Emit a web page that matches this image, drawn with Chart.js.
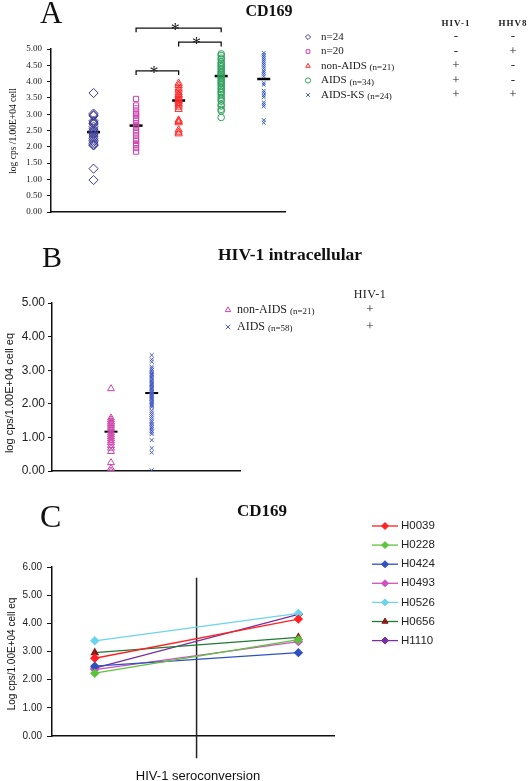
<!DOCTYPE html>
<html>
<head>
<meta charset="utf-8">
<script src="https://cdn.jsdelivr.net/npm/chart.js@4.4.1/dist/chart.umd.min.js"></script>
<style>
body{margin:0;background:#fff;}
#page{position:relative;width:530px;height:781px;overflow:hidden;background:#fff;}
canvas{position:absolute;left:0;}
.t{position:absolute;white-space:nowrap;color:#111;line-height:1;}
.serif{font-family:"Liberation Serif","DejaVu Serif",serif;}
.sans{font-family:"Liberation Sans",Arial,sans-serif;}
.c{transform:translateX(-50%);}
.rot{transform:translate(-50%,-50%) rotate(-90deg);}
</style>
</head>
<body>
<div id="page">
<canvas id="chartA" width="530" height="250" style="top:0"></canvas>
<canvas id="chartB" width="530" height="240" style="top:250px"></canvas>
<canvas id="chartC" width="530" height="291" style="top:490px"></canvas>

<div class="t serif" style="left:40px;top:-3px;font-size:31px">A</div>
<div class="t serif c" style="left:269px;top:3px;font-size:16px;font-weight:bold">CD169</div>
<div class="t serif rot" style="left:14px;top:131px;font-size:9.5px">log cps /1.00E+04 cell</div>

<div class="t serif" style="left:42px;top:242px;font-size:30px">B</div>
<div class="t serif c" style="left:290px;top:246px;font-size:17.5px;font-weight:bold">HIV-1 intracellular</div>
<div class="t sans rot" style="left:9px;top:393px;font-size:11px">log cps/1.00E+04 cell eq</div>

<div class="t serif" style="left:40px;top:500px;font-size:32px">C</div>
<div class="t serif c" style="left:262px;top:502px;font-size:17px;font-weight:bold">CD169</div>
<div class="t sans rot" style="left:12px;top:654px;font-size:10px">Log cps/1.00E+04 cell eq</div>
<div class="t sans c" style="left:198px;top:769px;font-size:13px">HIV-1 seroconversion</div>
</div>

<script>
// ---- panel A: CD169, log cps per 1.00E+04 cells, by group
const groupsA = ['n=24', 'n=20', 'non-AIDS', 'AIDS', 'AIDS-KS'];
const groupNA = ['', '', '(n=21)', '(n=34)', '(n=24)'];
const hivA = ['-', '-', '+', '+', '+'];
const hhv8A = ['-', '+', '-', '-', '+'];

const negA = [3.65, 3.02, 2.98, 2.95, 2.80, 2.76, 2.72, 2.70, 2.62, 2.55, 2.50, 2.47,
  2.44, 2.40, 2.36, 2.30, 2.25, 2.20, 2.15, 2.10, 2.06, 2.04, 1.33, 0.98];
const hhv8OnlyA = [3.47, 3.27, 3.18, 3.08, 3.00, 2.96, 2.88, 2.80, 2.72, 2.66,
  2.58, 2.50, 2.44, 2.35, 2.25, 2.18, 2.10, 2.05, 1.96, 1.85];
const nonAidsA = [3.95, 3.88, 3.80, 3.74, 3.66, 3.60, 3.58, 3.52, 3.47, 3.42, 3.38,
  3.33, 3.28, 3.22, 3.15, 2.82, 2.78, 2.74, 2.52, 2.45, 2.40];
const aidsA = [4.85, 4.80, 4.72, 4.68, 4.60, 4.55, 4.50, 4.46, 4.40, 4.35, 4.30, 4.26,
  4.22, 4.18, 4.14, 4.10, 4.05, 4.00, 3.96, 3.92, 3.86, 3.80, 3.76, 3.70, 3.66, 3.60,
  3.52, 3.46, 3.40, 3.30, 3.25, 3.15, 3.10, 2.90];
const aidsKsA = [4.88, 4.82, 4.76, 4.70, 4.64, 4.58, 4.52, 4.46, 4.40, 4.33, 4.28, 4.22,
  4.16, 3.96, 3.90, 3.72, 3.66, 3.58, 3.52, 3.36, 3.30, 3.24, 2.82, 2.74];
const meansA = [2.45, 2.65, 3.42, 4.17, 4.08];
// [from group, to group, height]
const bracketsA = [[2, 4, 5.64], [3, 4, 5.21], [2, 3, 4.33]];

// ---- panel B: HIV-1 intracellular
const groupsB = ['non-AIDS', 'AIDS'];
const groupNB = ['(n=21)', '(n=58)'];
const nonAidsB = [2.45, 1.58, 1.52, 1.46, 1.41, 1.36, 1.30, 1.25, 1.20, 1.14, 1.08,
  1.02, 0.96, 0.90, 0.84, 0.76, 0.68, 0.58, 0.25, 0.08, 0.00];
const aidsB = [3.45, 3.32, 3.25, 3.10, 3.05, 3.00, 2.95, 2.90, 2.86, 2.82,
  2.78, 2.74, 2.70, 2.66, 2.62, 2.58, 2.54, 2.50, 2.46, 2.42,
  2.38, 2.35, 2.32, 2.28, 2.25, 2.22, 2.18, 2.15, 2.12, 2.08,
  2.05, 2.02, 1.98, 1.94, 1.90, 1.80, 1.74, 1.68, 1.62, 1.56,
  1.50, 1.45, 1.40, 1.35, 1.30, 1.25, 1.20, 1.15, 1.10, 1.96,
  2.60, 2.88, 2.48, 0.92, 0.68, 0.55, 0.02, 2.20];
const meansB = [1.17, 2.32];

// ---- panel C: CD169 before / after seroconversion
const patients = ['H0039', 'H0228', 'H0424', 'H0493', 'H0526', 'H0656', 'H1110'];
const beforeC = [2.76, 2.23, 2.48, 2.36, 3.38, 2.96, 2.41];
const afterC = [4.15, 3.42, 2.96, 3.35, 4.35, 3.50, 4.32];
const lineColors = ['#ff2020', '#5cc43c', '#3050c0', '#d050c0', '#6cd4ea', '#1f7a35', '#7a2fa0'];
const markColors = ['#ff2020', '#5cc43c', '#3050c0', '#d050c0', '#6cd4ea', '#8b1a1a', '#7a2fa0'];

const col = (vals, x) => vals.map(v => ({x: x, y: v}));
const serif = '"Liberation Serif", "DejaVu Serif", serif';
const sans = '"Liberation Sans", Arial, sans-serif';

function makeKey(cfg) {
  return {
    id: 'key' + cfg.name,
    afterDraw(chart) {
      const ctx = chart.ctx;
      ctx.save();
      ctx.textBaseline = 'middle';
      cfg.rows.forEach((r, i) => {
        const ds = chart.data.datasets[i];
        const y = cfg.y + i * cfg.dy;
        if (cfg.line) {
          ctx.strokeStyle = ds.borderColor;
          ctx.lineWidth = 1.3;
          ctx.beginPath();
          ctx.moveTo(cfg.mx - cfg.line, y);
          ctx.lineTo(cfg.mx + cfg.line, y);
          ctx.stroke();
        }
        ctx.strokeStyle = ds.pointBorderColor || ds.borderColor;
        ctx.fillStyle = ds.pointBackgroundColor || ds.backgroundColor;
        ctx.lineWidth = 1;
        Chart.helpers.drawPoint(ctx, {pointStyle: ds.pointStyle, radius: cfg.r, borderWidth: 1, rotation: 0}, cfg.mx, y);
        ctx.fillStyle = '#222';
        ctx.textAlign = 'left';
        ctx.font = cfg.font;
        ctx.fillText(r.label, cfg.tx, y);
        if (r.sub) {
          const w = ctx.measureText(r.label + ' ').width;
          ctx.font = cfg.subFont;
          ctx.fillText(r.sub, cfg.tx + w, y + 2);
        }
        ctx.textAlign = 'center';
        ctx.font = cfg.signFont || cfg.font;
        (r.signs || []).forEach((s, j) => ctx.fillText(s, cfg.cols[j], y));
      });
      ctx.font = cfg.headFont || cfg.font;
      ctx.textAlign = 'center';
      if ('letterSpacing' in ctx) ctx.letterSpacing = cfg.headSpacing || '0px';
      (cfg.heads || []).forEach((h, j) => ctx.fillText(h, cfg.cols[j], cfg.headY));
      ctx.restore();
    }
  };
}

const starsA = {
  id: 'starsA',
  afterDatasetsDraw(chart) {
    const ctx = chart.ctx, xs = chart.scales.x, ys = chart.scales.y;
    ctx.save();
    ctx.fillStyle = '#222';
    ctx.font = '18px ' + serif;
    ctx.textAlign = 'center';
    ctx.textBaseline = 'alphabetic';
    bracketsA.forEach(b => {
      ctx.fillText('*', xs.getPixelForValue((b[0] + b[1]) / 2 - 0.08), ys.getPixelForValue(b[2]) + 8);
    });
    ctx.restore();
  }
};

function yAxis(max, step, width, font, tickLen, pad) {
  return {
    min: 0, max: max,
    afterFit: s => { s.width = width; },
    ticks: {stepSize: step, callback: v => v.toFixed(2), font: font, color: '#222', padding: pad},
    grid: {display: true, drawOnChartArea: false, drawTicks: true, tickLength: tickLen, color: '#111', lineWidth: 1},
    border: {display: true, color: '#111', width: 1.5}
  };
}
function xAxis(min, max) {
  return {
    type: 'linear', min: min, max: max,
    afterFit: s => { s.height = 0; },
    ticks: {display: false},
    grid: {display: false},
    border: {display: true, color: '#111', width: 1.5}
  };
}

const base = {responsive: false, animation: false, events: [], plugins: {legend: {display: false}, tooltip: {enabled: false}}};

// ---------- A
const colorsA = ['#3c3c96', '#d040b0', '#ff2a2a', '#2ea05a', '#3a5cc0'];
const stylesA = ['rectRot', 'rect', 'triangle', 'circle', 'crossRot'];
const radiiA = [4.6, 3.6, 4.2, 3.3, 2.6];
const seriesA = [negA, hhv8OnlyA, nonAidsA, aidsA, aidsKsA];
const dsA = seriesA.map((vals, i) => ({
  data: col(vals, i + 1), pointStyle: stylesA[i], pointRadius: radiiA[i],
  borderColor: colorsA[i], backgroundColor: 'rgba(0,0,0,0)', borderWidth: 1
}));
dsA.push({data: meansA.map((v, i) => ({x: i + 1, y: v})), pointStyle: 'line', pointRadius: 6.5,
  borderColor: '#000', borderWidth: 2.5});
bracketsA.forEach(b => dsA.push({
  data: [{x: b[0], y: b[2] - 0.13}, {x: b[0], y: b[2]}, {x: b[1], y: b[2]}, {x: b[1], y: b[2] - 0.13}],
  showLine: true, pointRadius: 0, borderColor: '#111', borderWidth: 1.3, clip: false
}));

new Chart(document.getElementById('chartA'), {
  type: 'scatter',
  data: {datasets: dsA},
  options: Object.assign({}, base, {
    layout: {padding: {left: 0, top: 49, right: 245, bottom: 38}},
    scales: {x: xAxis(0, 5.5), y: yAxis(5, 0.5, 51, {family: serif, size: 9}, 4, 5)}
  }),
  plugins: [starsA, makeKey({
    name: 'A', mx: 308, tx: 321, y: 37, dy: 14.5, r: 2.6,
    font: '11px ' + serif, subFont: '9px ' + serif, signFont: '13px ' + serif,
    cols: [456, 513], heads: ['HIV-1', 'HHV8'], headY: 24, headFont: 'bold 9px ' + serif, headSpacing: '1px',
    rows: groupsA.map((g, i) => ({label: g, sub: groupNA[i], signs: [hivA[i], hhv8A[i]]}))
  })]
});

// ---------- B
const colorsB = ['#cc44aa', '#4a5cc8'];
const dsB = [
  {data: col(nonAidsB, 1), pointStyle: 'triangle', pointRadius: 4, borderColor: colorsB[0], backgroundColor: 'rgba(0,0,0,0)', borderWidth: 1},
  {data: col(aidsB, 2), pointStyle: 'crossRot', pointRadius: 2.8, borderColor: colorsB[1], backgroundColor: 'rgba(0,0,0,0)', borderWidth: 1},
  {data: meansB.map((v, i) => ({x: i + 1, y: v})), pointStyle: 'line', pointRadius: 6.5, borderColor: '#000', borderWidth: 2}
];
new Chart(document.getElementById('chartB'), {
  type: 'scatter',
  data: {datasets: dsB},
  options: Object.assign({}, base, {
    layout: {padding: {left: 0, top: 53, right: 290, bottom: 19}},
    scales: {x: xAxis(-0.45, 4.17), y: yAxis(5, 1, 52, {family: sans, size: 12}, 4, 3)}
  }),
  plugins: [makeKey({
    name: 'B', mx: 228, tx: 237, y: 60, dy: 17, r: 3.2,
    font: '12px ' + serif, subFont: '9px ' + serif, signFont: '13px ' + serif,
    cols: [370], heads: ['HIV-1'], headY: 45, headFont: '12px ' + serif, headSpacing: '0.5px',
    rows: groupsB.map((g, i) => ({label: g, sub: groupNB[i], signs: ['+']}))
  })]
});

// ---------- C
const dsC = patients.map((p, i) => ({
  label: p,
  data: [{x: 1, y: beforeC[i]}, {x: 3, y: afterC[i]}],
  showLine: true, borderColor: lineColors[i], borderWidth: 1.3,
  pointStyle: i === 5 ? 'triangle' : 'rectRot', pointRadius: 3.8,
  pointBackgroundColor: markColors[i], pointBorderColor: markColors[i],
  backgroundColor: markColors[i]
}));
const seroX = 2;
dsC.push({data: [{x: seroX, y: -0.79}, {x: seroX, y: 5.62}], showLine: true, pointRadius: 0,
  borderColor: '#222', borderWidth: 1.5, clip: false});

new Chart(document.getElementById('chartC'), {
  type: 'scatter',
  data: {datasets: dsC},
  options: Object.assign({}, base, {
    layout: {padding: {left: 0, top: 77, right: 196, bottom: 45}},
    scales: {x: xAxis(0.58, 3.35), y: yAxis(6, 1, 52, {family: sans, size: 10}, 5, 5)}
  }),
  plugins: [makeKey({
    name: 'C', mx: 385, line: 13, tx: 401, y: 36, dy: 19.1, r: 3.5,
    font: '11.5px ' + sans, cols: [],
    rows: patients.map(p => ({label: p}))
  })]
});
</script>
</body>
</html>
